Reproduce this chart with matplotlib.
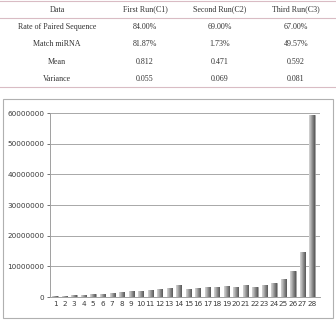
import numpy as np
import matplotlib
matplotlib.use('Agg')
import matplotlib.pyplot as plt
from matplotlib.patches import Rectangle

# Table data
col_labels = ['Data', 'First Run(C1)', 'Second Run(C2)', 'Third Run(C3)']
row_labels = ['Rate of Paired Sequence', 'Match miRNA', 'Mean', 'Variance']
c1 = ['84.00%', '81.87%', '0.812', '0.055']
c2 = ['69.00%', '1.73%', '0.471', '0.069']
c3 = ['67.00%', '49.57%', '0.592', '0.081']

# Bar data
positions = list(range(1, 29))
values = [400000, 450000, 500000, 600000, 900000, 1100000, 1400000, 1500000,
          1800000, 2100000, 2200000, 2500000, 2800000, 3800000, 2700000, 3000000,
          3400000, 3100000, 3700000, 3200000, 3800000, 3400000, 3900000, 4600000,
          6000000, 8400000, 14800000, 59500000]
yticks = [0, 10000000, 20000000, 30000000, 40000000, 50000000, 60000000]

W, H = 336, 323
fig = plt.figure(figsize=(W / 100, H / 100), dpi=100)

# ---- table at the top ----
serif = 'Liberation Serif'
line_col = '#d9bcc4'
for y in [1, 18, 87]:
    fig.add_artist(plt.Line2D([0, 1], [1 - y / H, 1 - y / H], color=line_col, lw=0.8))

col_x = [57, 145, 220, 296]
row_y = [27, 44, 62, 79]
for x, lab in zip(col_x, col_labels):
    fig.text(x / W, 1 - 9.5 / H, lab, ha='center', va='center', fontsize=5.8,
             family=serif, color='#333333')
for i, y in enumerate(row_y):
    cells = [row_labels[i], c1[i], c2[i], c3[i]]
    for x, txt in zip(col_x, cells):
        fig.text(x / W, 1 - y / H, txt, ha='center', va='center', fontsize=5.8,
                 family=serif, color='#333333')

# ---- chart box ----
fig.add_artist(Rectangle((3 / W, 1 - 318 / H), 330 / W, 219 / H,
                         transform=fig.transFigure, fill=False,
                         edgecolor='#b0b0b0', lw=0.8))

# ---- bar chart ----
ax = fig.add_axes([50 / W, 1 - 297 / H, 270 / W, 184 / H])
bars = ax.bar(positions, values, width=0.55, color='#bdbdbd', edgecolor='#7a7a7a', lw=0.4,
              zorder=3)

# horizontal gradient inside each bar to imitate the shaded look
grad = np.linspace(0, 1, 32).reshape(1, -1)
for b in bars:
    x0, w, h = b.get_x(), b.get_width(), b.get_height()
    im = ax.imshow(grad, cmap='Greys', vmin=-0.6, vmax=1.6, aspect='auto',
                   extent=[x0, x0 + w, 0, h], zorder=4)
    im.set_clip_path(b)

ax.set_xlim(0.47, 28.84)
ax.set_ylim(0, 60000000)
ax.set_yticks(yticks)
ax.set_yticklabels([str(v) for v in yticks])
ax.set_xticks(positions)
ax.set_xticklabels([str(p) for p in positions])
ax.tick_params(axis='both', labelsize=5.2, colors='#3a3a3a', length=2, width=0.5, pad=2)
ax.tick_params(axis='x', length=0, pad=3)
ax.grid(axis='y', color='#a8a8a8', lw=0.7, zorder=0)
for s in ['top', 'right']:
    ax.spines[s].set_visible(False)
for s in ['left', 'bottom']:
    ax.spines[s].set_color('#a0a0a0')
    ax.spines[s].set_linewidth(0.7)

fig.savefig('out.png', dpi=100)
